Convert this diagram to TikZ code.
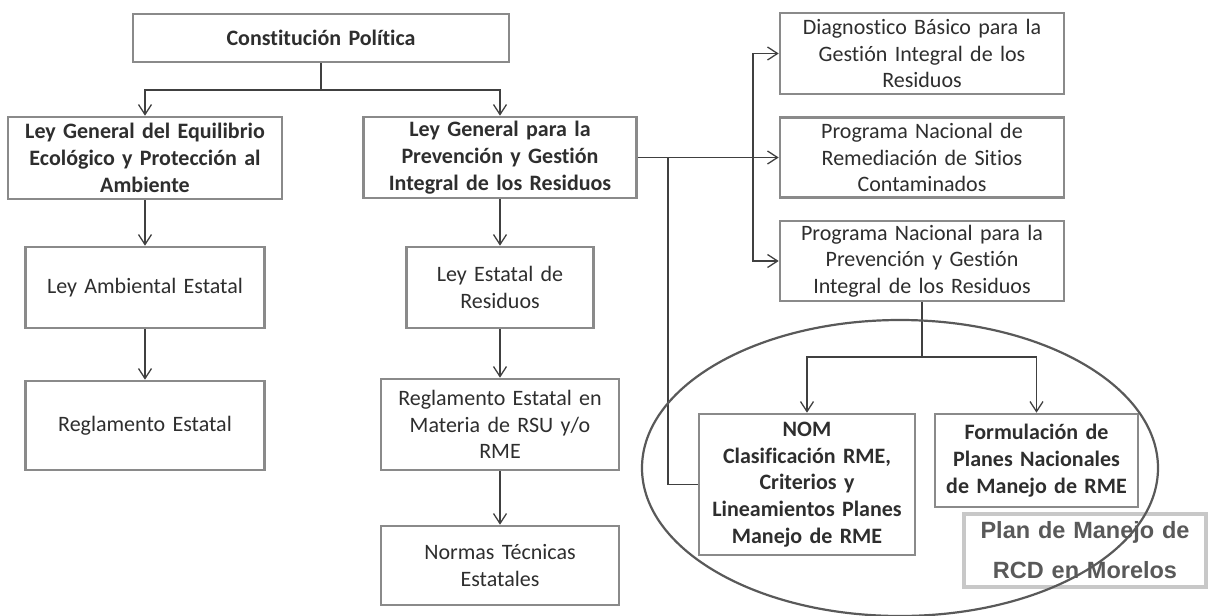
\documentclass[tikz,border=0pt]{standalone}
\usepackage{fontspec}
\setmainfont{Carlito}[Ligatures={NoCommon,NoContextual}]
\newfontfamily\arialfont{Liberation Sans}
\usetikzlibrary{arrows.meta,shapes.geometric}
\definecolor{bordc}{HTML}{8A8A8A}
\definecolor{txtc}{HTML}{2E2E2E}
\definecolor{arrc}{HTML}{404040}
\definecolor{planc}{HTML}{C8C8C8}
\definecolor{plantxt}{HTML}{595959}
\definecolor{ellc}{HTML}{595959}
\tikzset{
  bx/.style 2 args={draw=bordc, line width=2.6pt, fill=white, text=txtc, align=center,
    inner sep=0pt, minimum width=#1pt, minimum height=#2pt, text width=#1pt-10pt,
    font=\fontsize{22}{26.7}\selectfont},
  bbx/.style 2 args={bx={#1}{#2}, font=\fontsize{22}{26.7}\selectfont\bfseries},
  arr/.style={draw=arrc, line width=1.3pt, -{Straight Barb[length=10pt,width=13pt]}},
  ln/.style={draw=arrc, line width=1.3pt},
  planbox/.style={draw=planc, line width=3.5pt, fill=white, text=plantxt, align=center,
    inner sep=0pt, minimum width=242pt, minimum height=73pt, text width=240pt,
    font=\arialfont\bfseries\fontsize{23.5}{40}\selectfont},
  ring/.style={draw=ellc, line width=2.2pt, ellipse, inner sep=0pt,
    minimum width=516pt, minimum height=296pt}
}
\begin{document}
\begin{tikzpicture}[x=1pt,y=-1pt]
\useasboundingbox (0,0) rectangle (1211,616);
% nodes
\node[bbx={376}{48}] (const) at (321,38) {Constitución Política};
\node[bbx={274}{82}] (lgeepa) at (145,158) {Ley General del Equilibrio\\Ecológico y Protección al\\Ambiente};
\node[bbx={273}{81}] (lgpgir) at (500,157.5) {Ley General para la\\Prevención y Gestión\\Integral de los Residuos};
\node[bx={239}{81}] (leyamb) at (145,287.5) {Ley Ambiental Estatal};
\node[bx={239}{89}] (reglest) at (145,425.5) {Reglamento Estatal};
\node[bx={187}{81}] (leyres) at (500,287.5) {Ley Estatal de\\Residuos};
\node[bx={238}{91}] (reglmat) at (500,424.5) {Reglamento Estatal en\\Materia de RSU y/o\\RME};
\node[bx={238}{79}] (normas) at (500,565.5) {Normas Técnicas\\Estatales};
\node[bx={284}{81}] (diag) at (922,53.5) {Diagnostico Básico para la\\Gestión Integral de los\\Residuos};
\node[bx={284}{80}] (remed) at (922,157.5) {Programa Nacional de\\Remediación de Sitios\\Contaminados};
\node[bx={284}{80}] (prog) at (922,261) {Programa Nacional para la\\Prevención y Gestión\\Integral de los Residuos};
\node[bbx={216}{141}] (nom) at (807,484.5) {NOM\\Clasificación RME,\\Criterios y\\Lineamientos Planes\\Manejo de RME};
\node[bbx={203}{93}] (form) at (1036.5,460.5) {Formulación de\\Planes Nacionales\\de Manejo de RME};
\node[planbox] (plan) at (1085,550.5) {Plan de Manejo de\\RCD en Morelos};
% junctions
\coordinate (tj) at (321,90);
\coordinate (b1) at (753,157.5);
\coordinate (b2) at (668,157.5);
\coordinate (b3) at (922,357);
% connectors
\draw[ln] (const.south) -- (tj);
\draw[arr] (tj) -| (lgeepa);
\draw[arr] (tj) -| (lgpgir);
\draw[arr] (lgeepa) -- (leyamb);
\draw[arr] (leyamb) -- (reglest);
\draw[arr] (lgpgir) -- (leyres);
\draw[arr] (leyres) -- (reglmat);
\draw[arr] (reglmat) -- (normas);
\draw[arr] (lgpgir) -- (remed);
\draw[arr] (b1) |- (diag);
\draw[arr] (b1) |- (prog);
\draw[ln] (b2) |- (nom);
\draw[ln] (prog.south) -- (b3);
\draw[arr] (b3) -| (nom);
\draw[arr] (b3) -| (form);
% ellipse
\node[ring] (ell) at (900,468) {};
\end{tikzpicture}
\end{document}
